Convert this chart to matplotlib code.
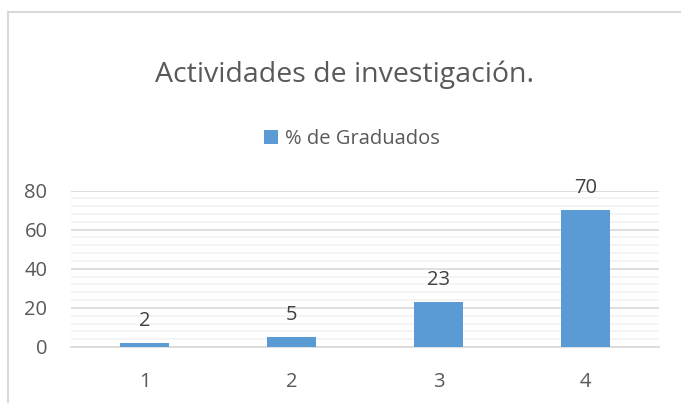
import matplotlib
matplotlib.use('Agg')
import matplotlib.pyplot as plt
from matplotlib.lines import Line2D
from matplotlib.patches import Patch

# data
categories = ['1', '2', '3', '4']
graduados = [2, 5, 23, 70]
series_name = '% de Graduados'
title = 'Actividades de investigación.'

plt.rcParams['font.family'] = ['Open Sans', 'DejaVu Sans']

W, H = 681, 403
fig = plt.figure(figsize=(W / 100, H / 100), dpi=100)
ax = fig.add_axes([71 / W, 1 - 347 / H, 588 / W, (347 - 190.5) / H])

bar_color = '#5b9bd5'
x = range(len(categories))
bars = ax.bar(x, graduados, width=0.333, color=bar_color, zorder=3)

for b, v in zip(bars, graduados):
    ax.text(b.get_x() + b.get_width() / 2, v + 6, str(v),
            ha='center', va='bottom', fontsize=14.5, color='#404040')

ax.set_xlim(-0.5, 3.5)
ax.set_ylim(0, 80)
ax.set_yticks(range(0, 81, 20))
ax.set_yticks(range(0, 81, 4), minor=True)
ax.set_xticks(list(x))
ax.set_xticklabels(categories)
ax.grid(axis='y', which='major', color='#d9d9d9', linewidth=1.2, zorder=0)
ax.grid(axis='y', which='minor', color='#f2f2f2', linewidth=1.2, zorder=0)
ax.tick_params(axis='both', which='both', length=0, labelsize=14.5,
               labelcolor='#595959')
ax.tick_params(axis='x', pad=18)
ax.tick_params(axis='y', pad=17)
for s in ['top', 'right', 'left']:
    ax.spines[s].set_visible(False)
ax.spines['bottom'].set_color('#d9d9d9')
ax.spines['bottom'].set_linewidth(1.2)

fig.text(345 / W, 1 - 75 / H, title, ha='center', va='center',
         fontsize=20.5, color='#595959')

handle = Patch(facecolor=bar_color, edgecolor='none')
fig.legend([handle], [series_name], loc='center', bbox_to_anchor=(352 / W, 1 - 139 / H),
           frameon=False, fontsize=14.5, handlelength=0.65, handleheight=0.65,
           handletextpad=0.35, labelcolor='#595959')

# chart border (top and left edges visible)
fig.add_artist(Line2D([7.5 / W, 1], [1 - 12 / H, 1 - 12 / H], color='#d9d9d9', linewidth=1.5))
fig.add_artist(Line2D([7.5 / W, 7.5 / W], [0, 1 - 12 / H], color='#d9d9d9', linewidth=1.5))

fig.savefig('out.png', dpi=100)
